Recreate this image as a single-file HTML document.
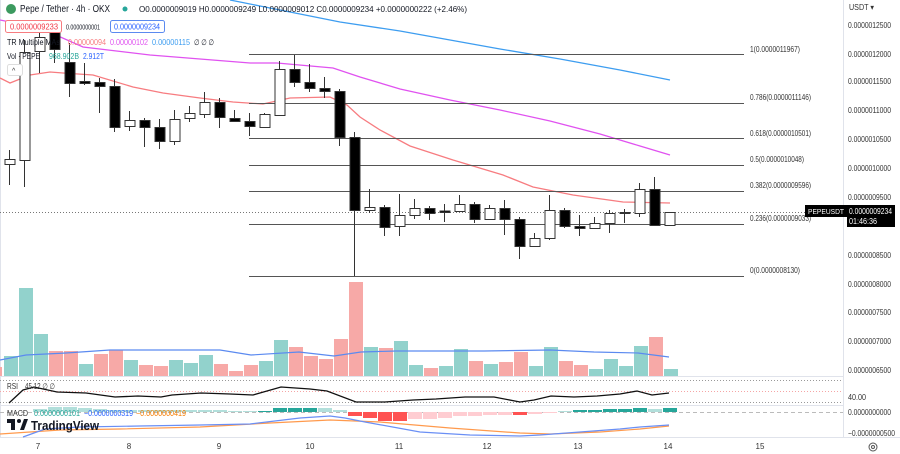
<!DOCTYPE html>
<html><head><meta charset="utf-8"><style>
body{margin:0;background:#fff;width:900px;height:454px;overflow:hidden;font-family:"Liberation Sans",sans-serif;}
svg{position:absolute;left:0;top:0}
text{font-family:"Liberation Sans",sans-serif}
</style></head><body>
<svg width="900" height="454" viewBox="0 0 900 454">
<line x1="0" y1="376.5" x2="843" y2="376.5" stroke="#e0e3eb"/>
<line x1="0" y1="405.5" x2="843" y2="405.5" stroke="#e0e3eb"/>
<line x1="0" y1="437.5" x2="900" y2="437.5" stroke="#e0e3eb"/>
<line x1="843.5" y1="0" x2="843.5" y2="437" stroke="#e0e3eb"/>
<line x1="0.5" y1="0" x2="0.5" y2="437" stroke="#e0e3eb"/>

<polyline fill="none" stroke="#3d9df0" stroke-width="1.3" points="230,0 260,6 300,14 340,22 400,31 450,40 500,49 560,59 620,70 670,80"/>
<polyline fill="none" stroke="#e052f0" stroke-width="1.3" points="0,20 40,28 83,47 150,55 250,63 277,63 333,68 360,77 400,89 450,100 500,110 550,121 600,134 640,146 670,155"/>
<polyline fill="none" stroke="#f77c80" stroke-width="1.3" points="0,78 10,83 30,75 50,72 63,73 93,75 133,87 163,93 200,98 233,102 263,104 290,98 330,97 347,105 360,117 380,130 410,146 453,160 503,175 533,187 573,195 623,202 670,203"/>

<g stroke="#555" stroke-width="1">
<line x1="249" y1="54.5" x2="744" y2="54.5"/>
<line x1="249" y1="103.5" x2="744" y2="103.5"/>
<line x1="249" y1="138.5" x2="744" y2="138.5"/>
<line x1="249" y1="165.5" x2="744" y2="165.5"/>
<line x1="249" y1="191.5" x2="744" y2="191.5"/>
<line x1="249" y1="224.5" x2="744" y2="224.5"/>
<line x1="249" y1="276.5" x2="744" y2="276.5"/>
</g>
<g font-size="8" fill="#333" lengthAdjust="spacingAndGlyphs">
<text x="750" y="52" textLength="50" lengthAdjust="spacingAndGlyphs">1(0.0000011967)</text>
<text x="750" y="100" textLength="61" lengthAdjust="spacingAndGlyphs">0.786(0.0000011146)</text>
<text x="750" y="136" textLength="61" lengthAdjust="spacingAndGlyphs">0.618(0.0000010501)</text>
<text x="750" y="162" textLength="54" lengthAdjust="spacingAndGlyphs">0.5(0.0000010048)</text>
<text x="750" y="188" textLength="61" lengthAdjust="spacingAndGlyphs">0.382(0.0000009596)</text>
<text x="750" y="221" textLength="61" lengthAdjust="spacingAndGlyphs">0.236(0.0000009033)</text>
<text x="750" y="273" textLength="50" lengthAdjust="spacingAndGlyphs">0(0.0000008130)</text>
</g>
<line x1="0" y1="212.5" x2="805" y2="212.5" stroke="#777" stroke-dasharray="1,2"/>

<g>
<rect x="0" y="367" width="2" height="9" fill="#f7a9a7"/>
<rect x="4" y="356" width="14" height="20" fill="#92d2cc"/>
<rect x="19" y="288" width="14" height="88" fill="#92d2cc"/>
<rect x="34" y="334" width="14" height="42" fill="#92d2cc"/>
<rect x="49" y="351" width="14" height="25" fill="#f7a9a7"/>
<rect x="64" y="351" width="14" height="25" fill="#f7a9a7"/>
<rect x="79" y="364" width="14" height="12" fill="#92d2cc"/>
<rect x="94" y="354" width="14" height="22" fill="#f7a9a7"/>
<rect x="109" y="350" width="14" height="26" fill="#f7a9a7"/>
<rect x="124" y="360" width="14" height="16" fill="#92d2cc"/>
<rect x="139" y="365" width="14" height="11" fill="#f7a9a7"/>
<rect x="154" y="366" width="14" height="10" fill="#f7a9a7"/>
<rect x="169" y="360" width="14" height="16" fill="#92d2cc"/>
<rect x="184" y="363" width="14" height="13" fill="#92d2cc"/>
<rect x="199" y="355" width="14" height="21" fill="#92d2cc"/>
<rect x="214" y="364" width="14" height="12" fill="#f7a9a7"/>
<rect x="229" y="371" width="14" height="5" fill="#f7a9a7"/>
<rect x="244" y="365" width="14" height="11" fill="#f7a9a7"/>
<rect x="259" y="361" width="14" height="15" fill="#92d2cc"/>
<rect x="274" y="340" width="14" height="36" fill="#92d2cc"/>
<rect x="289" y="347" width="14" height="29" fill="#f7a9a7"/>
<rect x="304" y="356" width="14" height="20" fill="#f7a9a7"/>
<rect x="319" y="359" width="14" height="17" fill="#f7a9a7"/>
<rect x="334" y="339" width="14" height="37" fill="#f7a9a7"/>
<rect x="349" y="282" width="14" height="94" fill="#f7a9a7"/>
<rect x="364" y="347" width="14" height="29" fill="#92d2cc"/>
<rect x="379" y="348" width="14" height="28" fill="#f7a9a7"/>
<rect x="394" y="341" width="14" height="35" fill="#92d2cc"/>
<rect x="409" y="365" width="14" height="11" fill="#92d2cc"/>
<rect x="424" y="368" width="14" height="8" fill="#f7a9a7"/>
<rect x="439" y="366" width="14" height="10" fill="#92d2cc"/>
<rect x="454" y="349" width="14" height="27" fill="#92d2cc"/>
<rect x="469" y="361" width="14" height="15" fill="#f7a9a7"/>
<rect x="484" y="364" width="14" height="12" fill="#92d2cc"/>
<rect x="499" y="362" width="14" height="14" fill="#f7a9a7"/>
<rect x="514" y="352" width="14" height="24" fill="#f7a9a7"/>
<rect x="529" y="366" width="14" height="10" fill="#92d2cc"/>
<rect x="544" y="347" width="14" height="29" fill="#92d2cc"/>
<rect x="559" y="361" width="14" height="15" fill="#f7a9a7"/>
<rect x="574" y="365" width="14" height="11" fill="#f7a9a7"/>
<rect x="589" y="369" width="14" height="7" fill="#92d2cc"/>
<rect x="604" y="359" width="14" height="17" fill="#92d2cc"/>
<rect x="619" y="366" width="14" height="10" fill="#92d2cc"/>
<rect x="634" y="346" width="14" height="30" fill="#92d2cc"/>
<rect x="649" y="337" width="14" height="39" fill="#f7a9a7"/>
<rect x="664" y="369" width="14" height="7" fill="#92d2cc"/>
</g>
<polyline fill="none" stroke="#5b8af0" stroke-width="1.2" points="0,360 26,355 66,353 110,350 220,350 251,355 299,352 334,356 361,352 396,351 484,351 550,350 594,352 638,353 669,357"/>

<g stroke="#333" stroke-width="1">
<line x1="9.5" y1="150" x2="9.5" y2="185"/><rect x="5" y="159.5" width="10" height="5" fill="#fff"/>
<line x1="24.5" y1="40" x2="24.5" y2="187"/><rect x="20" y="52.5" width="10" height="108" fill="#fff"/>
<line x1="39.5" y1="28" x2="39.5" y2="73"/><rect x="35" y="37.5" width="10" height="14" fill="#fff"/>
<line x1="54.5" y1="25" x2="54.5" y2="63"/><rect x="50" y="30.5" width="10" height="19" fill="#000"/>
<line x1="69.5" y1="43" x2="69.5" y2="97"/><rect x="65" y="62.5" width="10" height="21" fill="#000"/>
<line x1="84.5" y1="63" x2="84.5" y2="85"/><rect x="80" y="81.5" width="10" height="2" fill="#000"/>
<line x1="99.5" y1="78" x2="99.5" y2="113"/><rect x="95" y="82.5" width="10" height="4" fill="#000"/>
<line x1="114.5" y1="79" x2="114.5" y2="132"/><rect x="110" y="86.5" width="10" height="41" fill="#000"/>
<line x1="129.5" y1="111" x2="129.5" y2="131"/><rect x="125" y="120.5" width="10" height="6" fill="#fff"/>
<line x1="144.5" y1="118" x2="144.5" y2="147"/><rect x="140" y="120.5" width="10" height="7" fill="#000"/>
<line x1="159.5" y1="119" x2="159.5" y2="149"/><rect x="155" y="127.5" width="10" height="14" fill="#000"/>
<line x1="174.5" y1="110" x2="174.5" y2="145"/><rect x="170" y="119.5" width="10" height="22" fill="#fff"/>
<line x1="189.5" y1="106" x2="189.5" y2="122"/><rect x="185" y="113.5" width="10" height="5" fill="#fff"/>
<line x1="204.5" y1="92" x2="204.5" y2="118"/><rect x="200" y="102.5" width="10" height="12" fill="#fff"/>
<line x1="219.5" y1="98" x2="219.5" y2="128"/><rect x="215" y="102.5" width="10" height="15" fill="#000"/>
<line x1="234.5" y1="110" x2="234.5" y2="122"/><rect x="230" y="118.5" width="10" height="3" fill="#000"/>
<line x1="249.5" y1="113" x2="249.5" y2="136"/><rect x="245" y="121.5" width="10" height="5" fill="#000"/>
<line x1="264.5" y1="113" x2="264.5" y2="127"/><rect x="260" y="114.5" width="10" height="13" fill="#fff"/>
<line x1="279.5" y1="61" x2="279.5" y2="115"/><rect x="275" y="69.5" width="10" height="46" fill="#fff"/>
<line x1="294.5" y1="55" x2="294.5" y2="87"/><rect x="290" y="69.5" width="10" height="13" fill="#000"/>
<line x1="309.5" y1="64" x2="309.5" y2="92"/><rect x="305" y="82.5" width="10" height="6" fill="#000"/>
<line x1="324.5" y1="77" x2="324.5" y2="98"/><rect x="320" y="88.5" width="10" height="3" fill="#000"/>
<line x1="339.5" y1="89" x2="339.5" y2="146"/><rect x="335" y="91.5" width="10" height="46" fill="#000"/>
<line x1="354.5" y1="132" x2="354.5" y2="276"/><rect x="350" y="137.5" width="10" height="73" fill="#000"/>
<line x1="369.5" y1="189" x2="369.5" y2="213"/><rect x="365" y="207.5" width="10" height="3" fill="#fff"/>
<line x1="384.5" y1="205" x2="384.5" y2="236"/><rect x="380" y="207.5" width="10" height="20" fill="#000"/>
<line x1="399.5" y1="194" x2="399.5" y2="236"/><rect x="395" y="215.5" width="10" height="11" fill="#fff"/>
<line x1="414.5" y1="199" x2="414.5" y2="219"/><rect x="410" y="208.5" width="10" height="7" fill="#fff"/>
<line x1="429.5" y1="206" x2="429.5" y2="220"/><rect x="425" y="208.5" width="10" height="5" fill="#000"/>
<line x1="444.5" y1="204" x2="444.5" y2="222"/><rect x="440" y="211" width="10" height="1.5" fill="#000"/>
<line x1="459.5" y1="195" x2="459.5" y2="211"/><rect x="455" y="204.5" width="10" height="7" fill="#fff"/>
<line x1="474.5" y1="202" x2="474.5" y2="223"/><rect x="470" y="204.5" width="10" height="15" fill="#000"/>
<line x1="489.5" y1="205" x2="489.5" y2="220"/><rect x="485" y="208.5" width="10" height="11" fill="#fff"/>
<line x1="504.5" y1="200" x2="504.5" y2="235"/><rect x="500" y="208.5" width="10" height="11" fill="#000"/>
<line x1="519.5" y1="217" x2="519.5" y2="259"/><rect x="515" y="219.5" width="10" height="27" fill="#000"/>
<line x1="534.5" y1="233" x2="534.5" y2="246"/><rect x="530" y="238.5" width="10" height="8" fill="#fff"/>
<line x1="549.5" y1="195" x2="549.5" y2="240"/><rect x="545" y="210.5" width="10" height="28" fill="#fff"/>
<line x1="564.5" y1="208" x2="564.5" y2="228"/><rect x="560" y="210.5" width="10" height="16" fill="#000"/>
<line x1="579.5" y1="215" x2="579.5" y2="236"/><rect x="575" y="226.5" width="10" height="2" fill="#000"/>
<line x1="594.5" y1="217" x2="594.5" y2="229"/><rect x="590" y="223.5" width="10" height="5" fill="#fff"/>
<line x1="609.5" y1="210" x2="609.5" y2="233"/><rect x="605" y="213.5" width="10" height="10" fill="#fff"/>
<line x1="624.5" y1="209" x2="624.5" y2="223"/><rect x="620" y="212.5" width="10" height="1" fill="#fff"/>
<line x1="639.5" y1="183" x2="639.5" y2="217"/><rect x="635" y="189.5" width="10" height="24" fill="#fff"/>
<line x1="654.5" y1="177" x2="654.5" y2="225"/><rect x="650" y="189.5" width="10" height="36" fill="#000"/>
<line x1="669.5" y1="212" x2="669.5" y2="225"/><rect x="665" y="212.5" width="10" height="13" fill="#fff"/>
</g>

<line x1="0" y1="380.5" x2="843" y2="380.5" stroke="#999" stroke-dasharray="1,2"/>
<line x1="0" y1="391.5" x2="843" y2="391.5" stroke="#f5a5a5" stroke-dasharray="1,2"/>
<line x1="0" y1="402.5" x2="843" y2="402.5" stroke="#999" stroke-dasharray="1,2"/>
<polyline fill="none" stroke="#111" stroke-width="1.3" points="9,403 23,390 34,387 57,392 86,393 115,397 138,396 161,397 172,395 201,393 230,394 253,395 281,387 310,389 327,391 356,402 385,402 413,400 436,399 465,397 494,397 520,402 534,400 551,396 574,397 597,396 620,394 637,391 652,395 669,393"/>
<text x="7" y="389" font-size="8" fill="#333" textLength="11" lengthAdjust="spacingAndGlyphs">RSI</text>
<text x="25" y="389" font-size="8" fill="#333" textLength="30" lengthAdjust="spacingAndGlyphs">45.12 ∅ ∅</text>

<line x1="0" y1="412.5" x2="843" y2="412.5" stroke="#bbb" stroke-dasharray="4,3"/>
<g>
<rect x="33" y="409" width="14" height="3" fill="#b2dfdb"/>
<rect x="48" y="407" width="14" height="5" fill="#b2dfdb"/>
<rect x="63" y="407" width="14" height="5" fill="#b2dfdb"/>
<rect x="78" y="408" width="14" height="4" fill="#b2dfdb"/>
<rect x="93" y="409" width="14" height="3" fill="#b2dfdb"/>
<rect x="108" y="410" width="14" height="2" fill="#b2dfdb"/>
<rect x="123" y="410" width="14" height="2" fill="#b2dfdb"/>
<rect x="138" y="410" width="14" height="2" fill="#b2dfdb"/>
<rect x="153" y="410" width="14" height="2" fill="#b2dfdb"/>
<rect x="168" y="410" width="14" height="2" fill="#b2dfdb"/>
<rect x="183" y="410" width="14" height="2" fill="#b2dfdb"/>
<rect x="198" y="410" width="14" height="2" fill="#b2dfdb"/>
<rect x="213" y="410" width="14" height="2" fill="#b2dfdb"/>
<rect x="228" y="411" width="14" height="1" fill="#b2dfdb"/>
<rect x="243" y="411" width="14" height="1" fill="#b2dfdb"/>
<rect x="258" y="411" width="14" height="1" fill="#26a69a"/>
<rect x="273" y="408" width="14" height="4" fill="#26a69a"/>
<rect x="288" y="408" width="14" height="4" fill="#26a69a"/>
<rect x="303" y="408" width="14" height="4" fill="#26a69a"/>
<rect x="318" y="408" width="14" height="4" fill="#b2dfdb"/>
<rect x="333" y="410" width="14" height="2" fill="#b2dfdb"/>
<rect x="348" y="412" width="14" height="4" fill="#ff5252"/>
<rect x="363" y="412" width="14" height="6" fill="#ff5252"/>
<rect x="378" y="412" width="14" height="9" fill="#ff5252"/>
<rect x="393" y="412" width="14" height="9" fill="#ff5252"/>
<rect x="408" y="412" width="14" height="7" fill="#ffcdd2"/>
<rect x="423" y="412" width="14" height="7" fill="#ffcdd2"/>
<rect x="438" y="412" width="14" height="6" fill="#ffcdd2"/>
<rect x="453" y="412" width="14" height="4" fill="#ffcdd2"/>
<rect x="468" y="412" width="14" height="4" fill="#ffcdd2"/>
<rect x="483" y="412" width="14" height="3" fill="#ffcdd2"/>
<rect x="498" y="412" width="14" height="3" fill="#ffcdd2"/>
<rect x="513" y="412" width="14" height="3" fill="#ff5252"/>
<rect x="528" y="412" width="14" height="2" fill="#ffcdd2"/>
<rect x="543" y="412" width="14" height="1" fill="#ffcdd2"/>
<rect x="558" y="411" width="14" height="1" fill="#b2dfdb"/>
<rect x="573" y="410" width="14" height="2" fill="#26a69a"/>
<rect x="588" y="410" width="14" height="2" fill="#26a69a"/>
<rect x="603" y="409" width="14" height="3" fill="#26a69a"/>
<rect x="618" y="409" width="14" height="3" fill="#26a69a"/>
<rect x="633" y="408" width="14" height="4" fill="#26a69a"/>
<rect x="648" y="409" width="14" height="3" fill="#b2dfdb"/>
<rect x="663" y="408" width="14" height="4" fill="#26a69a"/>
</g>
<polyline fill="none" stroke="#ff9a4d" stroke-width="1.2" points="0,434 60,430 120,429 200,427 270,423 330,420 380,422 450,428 520,433 550,434 600,432 640,429 669,426"/>
<polyline fill="none" stroke="#6a8ff5" stroke-width="1.2" points="23,437 45,429 80,427 140,426 200,425 250,424 300,418 330,416 345,418 365,422 420,432 470,435 520,436 540,435 580,432 620,429 640,427 669,425"/>
<text x="7" y="416" font-size="8" fill="#333" textLength="21" lengthAdjust="spacingAndGlyphs">MACD</text>
<text x="34" y="416" font-size="8" fill="#26a69a" textLength="46" lengthAdjust="spacingAndGlyphs">0.0000000101</text>
<text x="84" y="416" font-size="8" fill="#2962ff" textLength="49" lengthAdjust="spacingAndGlyphs">−0.0000000319</text>
<text x="136" y="416" font-size="8" fill="#f57c00" textLength="50" lengthAdjust="spacingAndGlyphs">−0.0000000419</text>
<g fill="#131722">
<rect x="7" y="419" width="8" height="4"/><rect x="11" y="419" width="4" height="11"/>
<circle cx="19" cy="421" r="2"/><path d="M20,430 L24,419 L28,419 L24,430Z"/>
<text x="31" y="430" font-size="13" font-weight="bold" fill="#131722" textLength="68" lengthAdjust="spacingAndGlyphs">TradingView</text>
</g>

<g font-size="8" fill="#333">
<text x="849" y="10" textLength="25" lengthAdjust="spacingAndGlyphs">USDT ▾</text>
<text x="848" y="28" textLength="43" lengthAdjust="spacingAndGlyphs">0.0000012500</text>
<text x="848" y="57" textLength="43" lengthAdjust="spacingAndGlyphs">0.0000012000</text>
<text x="848" y="84" textLength="43" lengthAdjust="spacingAndGlyphs">0.0000011500</text>
<text x="848" y="113" textLength="43" lengthAdjust="spacingAndGlyphs">0.0000011000</text>
<text x="848" y="142" textLength="43" lengthAdjust="spacingAndGlyphs">0.0000010500</text>
<text x="848" y="171" textLength="43" lengthAdjust="spacingAndGlyphs">0.0000010000</text>
<text x="848" y="200" textLength="43" lengthAdjust="spacingAndGlyphs">0.0000009500</text>
<text x="848" y="258" textLength="43" lengthAdjust="spacingAndGlyphs">0.0000008500</text>
<text x="848" y="287" textLength="43" lengthAdjust="spacingAndGlyphs">0.0000008000</text>
<text x="848" y="315" textLength="43" lengthAdjust="spacingAndGlyphs">0.0000007500</text>
<text x="848" y="344" textLength="43" lengthAdjust="spacingAndGlyphs">0.0000007000</text>
<text x="848" y="373" textLength="43" lengthAdjust="spacingAndGlyphs">0.0000006500</text>
<text x="848" y="400" textLength="18" lengthAdjust="spacingAndGlyphs">40.00</text>
<text x="848" y="415" textLength="43" lengthAdjust="spacingAndGlyphs">0.0000000000</text>
<text x="848" y="436" textLength="47" lengthAdjust="spacingAndGlyphs">−0.0000000500</text>
</g>
<rect x="805" y="205" width="42" height="12" fill="#000"/>
<text x="808" y="214" font-size="7.5" fill="#fff" textLength="36" lengthAdjust="spacingAndGlyphs">PEPEUSDT</text>
<rect x="847" y="205" width="48" height="22" fill="#000"/>
<text x="849" y="214" font-size="8" fill="#fff" textLength="43" lengthAdjust="spacingAndGlyphs">0.0000009234</text>
<text x="849" y="224" font-size="8" fill="#fff" textLength="28" lengthAdjust="spacingAndGlyphs">01:46:36</text>

<g font-size="8" fill="#333" text-anchor="middle">
<text x="38" y="449">7</text><text x="129" y="449">8</text><text x="219" y="449">9</text>
<text x="310" y="449">10</text><text x="399" y="449">11</text><text x="487" y="449">12</text>
<text x="578" y="449">13</text><text x="668" y="449">14</text><text x="760" y="449">15</text>
</g>
<circle cx="873" cy="447" r="4" fill="none" stroke="#555"/><circle cx="873" cy="447" r="1.5" fill="none" stroke="#555"/>

<circle cx="11" cy="9" r="5" fill="#3c9a5f"/>
<text x="20" y="12" font-size="10" fill="#131722" textLength="90" lengthAdjust="spacingAndGlyphs">Pepe / Tether · 4h · OKX</text>
<circle cx="125" cy="9" r="2.5" fill="#26a69a"/>
<text x="139" y="12" font-size="8" fill="#131722" textLength="328" lengthAdjust="spacingAndGlyphs">O0.0000009019 H0.0000009249 L0.0000009012 C0.0000009234 +0.0000000222 (+2.46%)</text>
<rect x="5.5" y="20.5" width="56" height="12" rx="2" fill="#fff" stroke="#f77c80"/>
<text x="10" y="29.5" font-size="8" fill="#f23645" textLength="48" lengthAdjust="spacingAndGlyphs">0.0000009233</text>
<text x="66" y="29.5" font-size="7" fill="#131722" textLength="34" lengthAdjust="spacingAndGlyphs">0.0000000001</text>
<rect x="110.5" y="20.5" width="54" height="12" rx="2" fill="#fff" stroke="#5b8af0"/>
<text x="114" y="29.5" font-size="8" fill="#2962ff" textLength="46" lengthAdjust="spacingAndGlyphs">0.0000009234</text>
<text x="7" y="45" font-size="8" fill="#131722" textLength="53" lengthAdjust="spacingAndGlyphs">TR Multiple MAs</text>
<text x="68" y="45" font-size="8" fill="#f77c80" textLength="38" lengthAdjust="spacingAndGlyphs">0.00000094</text>
<text x="110" y="45" font-size="8" fill="#e052f0" textLength="38" lengthAdjust="spacingAndGlyphs">0.00000102</text>
<text x="152" y="45" font-size="8" fill="#3d9df0" textLength="38" lengthAdjust="spacingAndGlyphs">0.00000115</text>
<text x="194" y="45" font-size="8" fill="#131722" textLength="20" lengthAdjust="spacingAndGlyphs">∅ ∅ ∅</text>
<text x="7" y="59" font-size="8" fill="#131722" textLength="33" lengthAdjust="spacingAndGlyphs">Vol · PEPE</text>
<text x="49" y="59" font-size="8" fill="#26a69a" textLength="30" lengthAdjust="spacingAndGlyphs">968.902B</text>
<text x="83" y="59" font-size="8" fill="#2962ff" textLength="21" lengthAdjust="spacingAndGlyphs">2.912T</text>
<rect x="7.5" y="64.5" width="15" height="11" rx="2" fill="#fff" stroke="#ddd"/>
<text x="12" y="73" font-size="7" fill="#333">^</text>
</svg>
</body></html>
